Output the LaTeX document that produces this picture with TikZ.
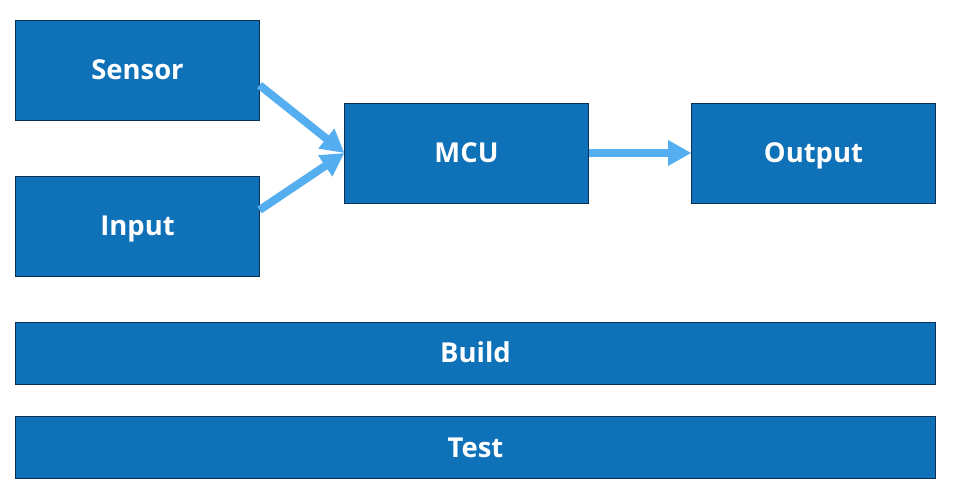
\documentclass[tikz,border=0pt]{standalone}
\usepackage{fontspec}
\setmainfont{Open Sans}
\usetikzlibrary{positioning,arrows.meta,calc}
\definecolor{boxblue}{HTML}{0F71B8}
\definecolor{boxedge}{HTML}{0B2F55}
\definecolor{flow}{HTML}{55AEF0}

\begin{document}
\begin{tikzpicture}[x=0.025cm,y=-0.025cm,
    block/.style={draw=boxedge,line width=0.6pt,fill=boxblue,text=white,
      font=\fontsize{19.5}{22}\selectfont\bfseries,inner sep=0pt,
      text height=14pt,text depth=0pt},
    flowarrow/.style={draw=flow,line width=0.2cm,
      -{Triangle[length=0.58cm,width=0.6cm]}}]
  \useasboundingbox (0,0) rectangle (960,501);
  % top row
  \node[block,minimum width=6.08cm,minimum height=2.5cm] (sensor) at (137.5,70) {Sensor};
  \node[block,minimum width=6.08cm,minimum height=2.5cm] (input) at (137.5,226) {Input};
  \node[block,minimum width=6.08cm,minimum height=2.5cm] (mcu) at (466.5,153) {MCU};
  \node[block,minimum width=6.08cm,minimum height=2.5cm] (output) at (813.5,153) {Output};
  % bottom bars
  \node[block,minimum width=22.98cm,minimum height=1.55cm] (build) at (475.5,353) {Build};
  \node[block,minimum width=22.98cm,minimum height=1.55cm] (test) at (475.5,447.5) {Test};
  % arrows
  \draw[flowarrow] ([yshift=-0.38cm]sensor.east) -- (mcu.west);
  \draw[flowarrow] ([yshift=0.4cm]input.east) -- (mcu.west);
  \draw[flowarrow] (mcu.east) -- (output.west);
\end{tikzpicture}
\end{document}
